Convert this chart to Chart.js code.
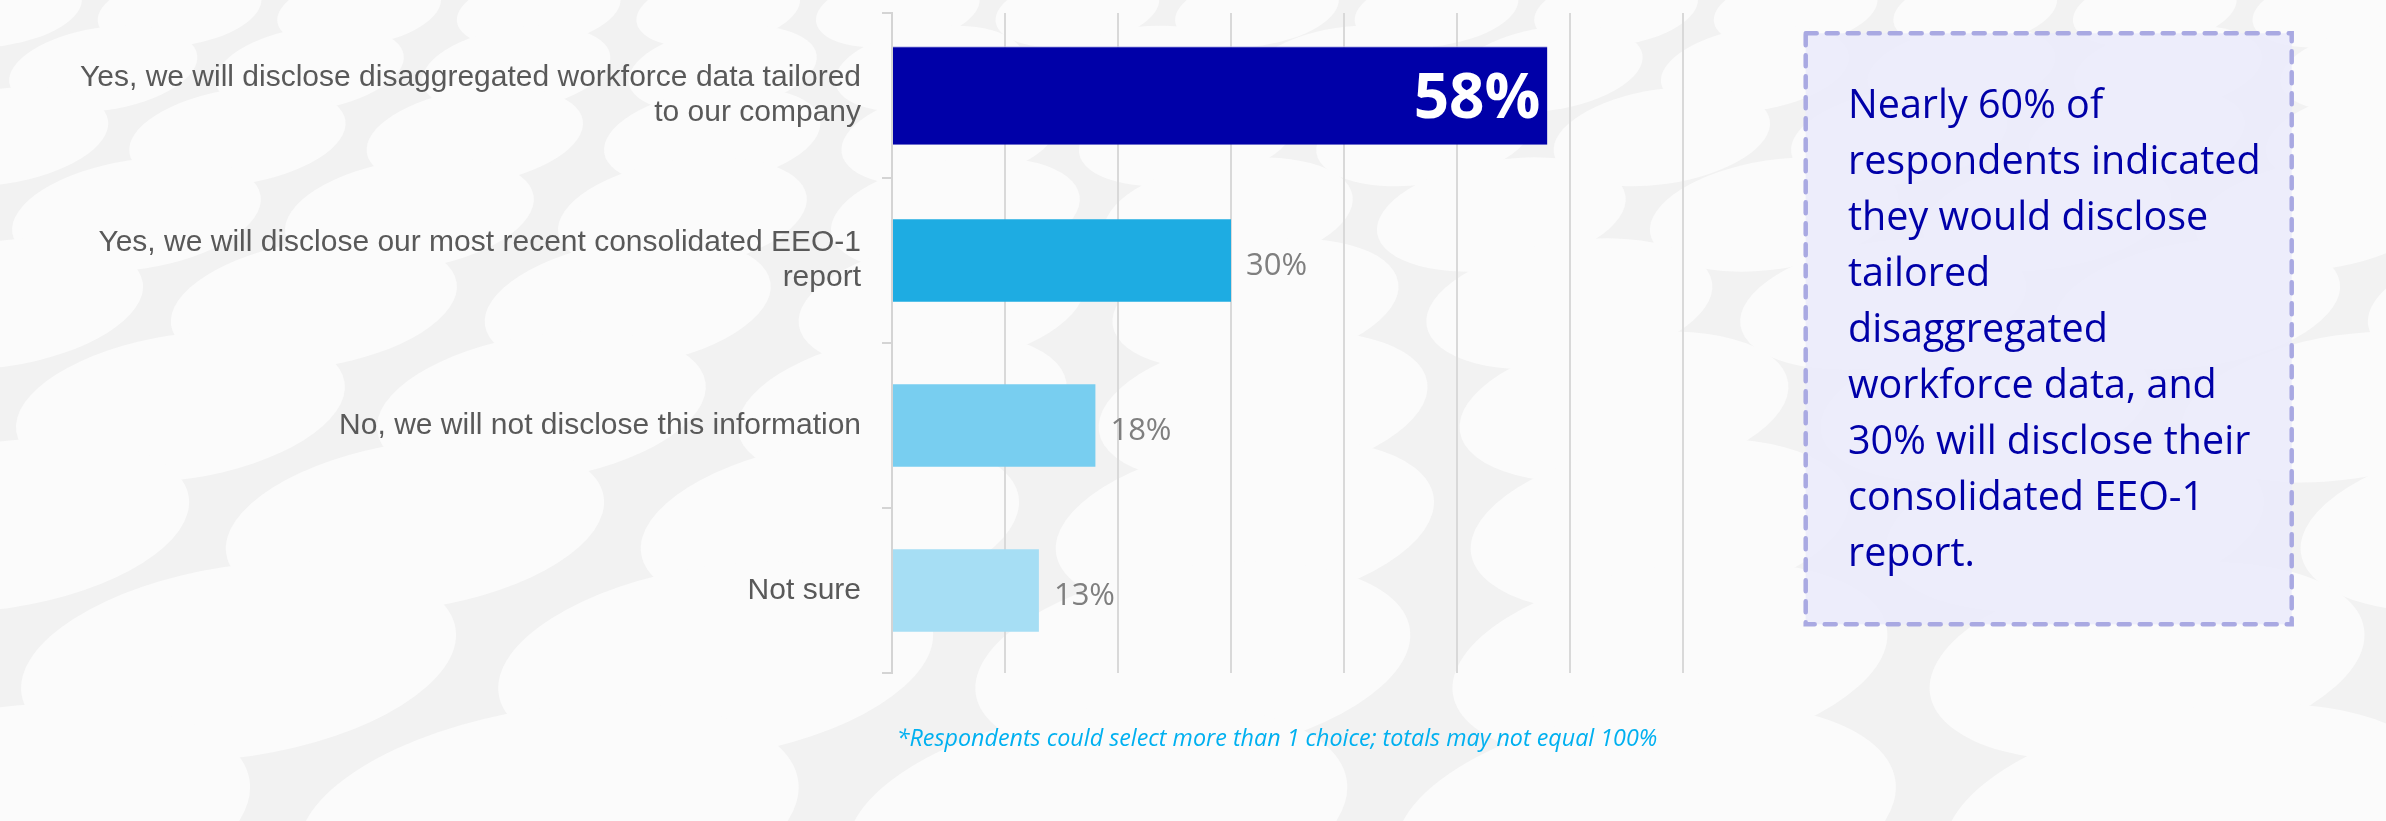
<!DOCTYPE html>
<html>
<head>
<meta charset="utf-8">
<title>Workforce data disclosure</title>
<script src="https://cdn.jsdelivr.net/npm/chart.js@4.4.1/dist/chart.umd.min.js"></script>
<style>
  html, body { margin: 0; padding: 0; }
  body { width: 2386px; height: 821px; position: relative; overflow: hidden; background: #f2f2f2; }
  #backdrop { position: absolute; left: 0; top: 0; }
  #chartWrap { position: absolute; left: 0; top: 0; width: 1700px; height: 821px; }
  #note {
    position: absolute; left: 777px; top: 721px; width: 1000px; height: 32px;
    text-align: center; font: italic 23.3px/32px "Open Sans", sans-serif; color: #00b0f0;
    white-space: nowrap;
  }
  #callout { position: absolute; left: 1800px; top: 28px; width: 500px; height: 602px; }
  #callout svg { position: absolute; left: 0; top: 0; }
  #callout p {
    position: absolute; left: 48px; top: 47px; margin: 0;
    font: 39.5px/56px "Open Sans", sans-serif; color: #0000a8; white-space: nowrap;
  }
</style>
</head>
<body>
<canvas id="backdrop" width="2386" height="821"></canvas>
<div id="chartWrap"><canvas id="barChart"></canvas></div>
<div id="note"></div>
<div id="callout">
  <svg width="500" height="602">
    <rect x="5.7" y="5.3" width="486" height="591" fill="#ebebfb" fill-opacity="0.88"
          stroke="#a9a9e2" stroke-width="4.5" stroke-dasharray="11 10" stroke-linecap="round"/>
  </svg>
  <p id="calloutText"></p>
</div>
<script>
// survey answers, one row per bar
const categories = [
  ['Yes, we will disclose disaggregated workforce data tailored', 'to our company'],
  ['Yes, we will disclose our most recent consolidated EEO-1', 'report'],
  'No, we will not disclose this information',
  'Not sure'
];
const shares = [58, 30, 18, 13];
const barColors = ['#0000a8', '#1eace2', '#78cef0', '#a6def4'];
const axisTicks = [0, 10, 20, 30, 40, 50, 60, 70];
const highlightIndex = 0;

const footnote = '*Respondents could select more than 1 choice; totals may not equal 100%';
const calloutLines = [
  'Nearly 60% of',
  'respondents indicated',
  'they would disclose',
  'tailored',
  'disaggregated',
  'workforce data, and',
  '30% will disclose their',
  'consolidated EEO-1',
  'report.'
];

window.addEventListener('load', () => {
  document.getElementById('note').textContent = footnote;
  document.getElementById('calloutText').innerHTML = calloutLines.join('<br>');

  // soft pebble pattern behind everything, pebbles grow towards the bottom
  function drawBackdrop() {
    const c = document.getElementById('backdrop');
    const ctx = c.getContext('2d');
    ctx.fillStyle = '#f2f2f2';
    ctx.fillRect(0, 0, c.width, c.height);
    ctx.fillStyle = '#fbfbfb';
    let y = 10, row = 0;
    while (y < 1000) {
      const s = 0.7 + 1.5 * y / 821;
      const rx = 115 * s, ry = 50 * s, dx = 250 * s;
      const shift = (row % 2) * dx / 2;
      for (let x = -dx + shift; x < 2600; x += dx) {
        ctx.beginPath();
        ctx.ellipse(x, y, rx, ry, -0.15, 0, Math.PI * 2);
        ctx.fill();
      }
      y += 82 * s;
      row++;
    }
  }
  drawBackdrop();

  // percentage labels: big white one inside the highlighted bar, grey ones after the rest
  const valueLabels = {
    id: 'valueLabels',
    afterDatasetsDraw(chart) {
      const ctx = chart.ctx;
      chart.data.datasets.forEach((ds, di) => {
        const meta = chart.getDatasetMeta(di);
        meta.data.forEach((bar, i) => {
          const v = ds.data[i];
          if (v == null) return;
          ctx.save();
          ctx.textBaseline = 'alphabetic';
          if (i === highlightIndex) {
            ctx.font = 'bold 62px "Open Sans"';
            ctx.fillStyle = '#ffffff';
            ctx.textAlign = 'right';
            ctx.fillText(v + '%', bar.x - 7, bar.y + 22);
          } else {
            ctx.font = '31px "Open Sans"';
            ctx.fillStyle = '#7f7f7f';
            ctx.textAlign = 'left';
            ctx.fillText(v + '%', bar.x + 15, bar.y + 14.5);
          }
          ctx.restore();
        });
      });
    }
  };

  const pick = (keep) => shares.map((v, i) => (keep(i) ? v : null));

  new Chart(document.getElementById('barChart').getContext('2d'), {
    type: 'bar',
    data: {
      labels: categories,
      datasets: [{
        data: pick(i => i === highlightIndex),
        backgroundColor: barColors,
        borderColor: '#b8b8ea',
        borderWidth: { top: 1, right: 0, bottom: 0, left: 0 },
        borderSkipped: false,
        barPercentage: 0.596,
        categoryPercentage: 1
      }, {
        data: pick(i => i !== highlightIndex),
        backgroundColor: barColors,
        borderWidth: 0,
        barPercentage: 0.5,
        categoryPercentage: 1
      }]
    },
    options: {
      indexAxis: 'y',
      responsive: true,
      maintainAspectRatio: false,
      animation: false,
      grouped: false,
      layout: { padding: { top: 13, right: 17, bottom: 148, left: 0 } },
      plugins: { legend: { display: false }, tooltip: { enabled: false } },
      scales: {
        x: {
          min: 0,
          max: 70,
          afterBuildTicks(scale) { scale.ticks = axisTicks.map(v => ({ value: v })); },
          ticks: { display: false },
          grid: { color: '#d9d9d9', lineWidth: 2, drawTicks: false },
          border: { display: false }
        },
        y: {
          afterFit(scale) {
            scale.width = 892;
            scale.paddingTop = 0;
            scale.paddingBottom = 0;
          },
          ticks: {
            color: '#595959',
            padding: 21,
            font: { family: '"Liberation Sans", Arial, sans-serif', size: 30, lineHeight: 1.167 }
          },
          grid: { drawOnChartArea: false, tickLength: 10, color: '#d4d4d4', lineWidth: 2 },
          border: { color: '#d4d4d4', width: 2 }
        }
      }
    },
    plugins: [valueLabels]
  });
});
</script>
</body>
</html>
